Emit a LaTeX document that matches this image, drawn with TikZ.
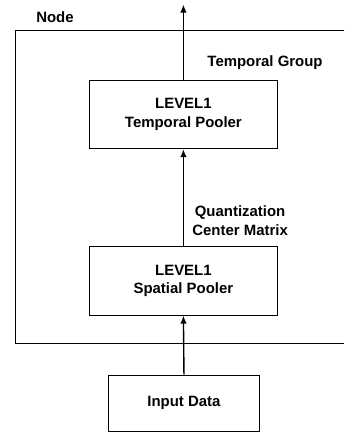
\documentclass[tikz,border=0pt]{standalone}
\usepackage{fontspec}
\setmainfont{Liberation Sans}
\usepackage{tikz}
\usetikzlibrary{arrows.meta}

\begin{document}
\begin{tikzpicture}[
    font=\fontsize{15}{19}\selectfont\bfseries,
    >={Latex[length=8pt,width=6.5pt]},
    pooler/.style={
        draw,
        line width=0.9pt,
        minimum width=6.6cm,
        minimum height=2.42cm,
        align=center
    },
    inbox/.style={
        draw,
        line width=0.9pt,
        minimum width=5.36cm,
        minimum height=1.98cm,
        align=center
    },
    frame/.style={draw, line width=0.9pt},
    arr/.style={->, line width=1.4pt}
]
\useasboundingbox (0,0) rectangle (12.14,15.24);

% Node frame (open on the right)
\draw[frame] (12.14,14.18) -- (0.56,14.18) -- (0.56,3.14) -- (12.14,3.14);
\node (nodelbl) at (1.94,14.64) {Node};

% Poolers
\node[pooler] (temporal) at (6.47,11.20) {LEVEL1\\Temporal Pooler};
\node[pooler] (spatial) at (6.47,5.33) {LEVEL1\\Spatial Pooler};

% Input
\node[inbox] (input) at (6.49,1.02) {Input Data};

% Output end
\coordinate (out) at (6.47,15.08);

% Connectors
\draw[arr] (input.north) -- (spatial.south);
\draw[arr] (spatial.north) -- (temporal.south);
\draw[arr] (temporal.north) -- (out);

% Labels
\node[align=center] (qcm) at (8.47,7.44) {Quantization\\Center Matrix};
\node (tgroup) at (9.35,13.02) {Temporal Group};

\end{tikzpicture}
\end{document}
